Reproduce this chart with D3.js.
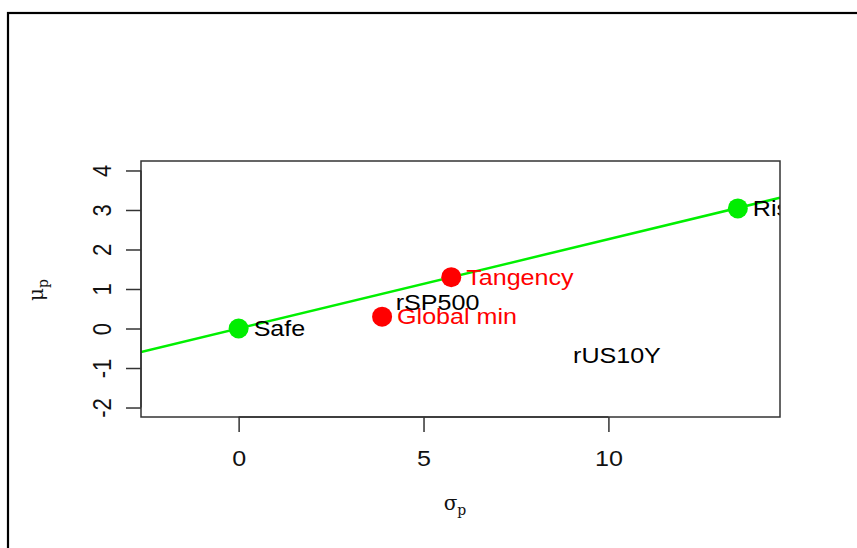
<!DOCTYPE html>
<html>
<head>
<meta charset="utf-8">
<script src="https://cdn.jsdelivr.net/npm/d3@7"></script>
<style>
  html, body { margin: 0; padding: 0; background: #fff; }
  svg { display: block; }
</style>
</head>
<body>
<svg id="chart" width="857" height="548"></svg>
<script>
// Portfolio points in (sigma_p, mu_p) space
const portfolioNames = ["Safe", "Global min", "Tangency", "Risky"];
const portfolioSigma = [0, 3.88, 5.75, 13.5];
const portfolioMu = [0, 0.30, 1.30, 3.04];
const portfolioColors = ["#00ee00", "#ff0000", "#ff0000", "#00ee00"];
const portfolioLabelColors = ["#000000", "#ff0000", "#ff0000", "#000000"];

// Individual assets, drawn as plain text labels
const assetNames = ["rSP500", "rUS10Y"];
const assetSigma = [5.38, 10.23];
const assetMu = [0.66, -0.67];

// Axis ticks
const xTicks = [0, 5, 10];
const yTicks = [-2, -1, 0, 1, 2, 3, 4];
const xDomain = [-2.64, 14.64];
const yDomain = [-2.24, 4.24];

const svg = d3.select("#chart");
const plot = { left: 141, right: 780, top: 161, bottom: 417 };
const fontFam = "'Liberation Sans', Arial, Helvetica, sans-serif";
const labelSize = 22;
const wide = 1.14; // horizontal glyph stretch of the text
const plainNum = d => String(d); // ASCII hyphen for negatives

// Outer frame
svg.append("rect")
  .attr("x", 8).attr("y", 13)
  .attr("width", 900).attr("height", 600)
  .attr("fill", "none").attr("stroke", "#000").attr("stroke-width", 2.2);

const x = d3.scaleLinear().domain(xDomain).range([plot.left, plot.right]);
const y = d3.scaleLinear().domain(yDomain).range([plot.bottom, plot.top]);

svg.append("clipPath").attr("id", "plotClip")
  .append("rect")
  .attr("x", plot.left).attr("y", plot.top)
  .attr("width", plot.right - plot.left).attr("height", plot.bottom - plot.top);

const inner = svg.append("g").attr("clip-path", "url(#plotClip)");

// Capital allocation line through Safe and Tangency
const slope = (portfolioMu[2] - portfolioMu[0]) / (portfolioSigma[2] - portfolioSigma[0]);
const lineData = xDomain.map(s => [s, portfolioMu[0] + slope * (s - portfolioSigma[0])]);
inner.append("path")
  .datum(lineData)
  .attr("d", d3.line().x(d => x(d[0])).y(d => y(d[1])))
  .attr("fill", "none")
  .attr("stroke", "#00f000")
  .attr("stroke-width", 2.5);

const points = portfolioNames.map((n, i) => ({
  name: n, s: portfolioSigma[i], m: portfolioMu[i],
  color: portfolioColors[i], labelColor: portfolioLabelColors[i]
}));

inner.selectAll("circle.pt").data(points).join("circle")
  .attr("class", "pt")
  .attr("cx", d => x(d.s)).attr("cy", d => y(d.m))
  .attr("r", 10)
  .attr("fill", d => d.color);

inner.selectAll("text.pl").data(points).join("text")
  .attr("class", "pl")
  .attr("transform", d => `translate(${x(d.s) + 15},${y(d.m)}) scale(${wide},1)`)
  .attr("dy", "0.35em")
  .attr("font-family", fontFam).attr("font-size", labelSize)
  .attr("fill", d => d.labelColor)
  .text(d => d.name);

const assets = assetNames.map((n, i) => ({ name: n, s: assetSigma[i], m: assetMu[i] }));
inner.selectAll("text.asset").data(assets).join("text")
  .attr("class", "asset")
  .attr("transform", d => `translate(${x(d.s)},${y(d.m)}) scale(${wide},1)`)
  .attr("dy", "0.35em")
  .attr("text-anchor", "middle")
  .attr("font-family", fontFam).attr("font-size", labelSize)
  .attr("fill", "#000")
  .text(d => d.name);

// Plot box
svg.append("rect")
  .attr("x", plot.left).attr("y", plot.top)
  .attr("width", plot.right - plot.left).attr("height", plot.bottom - plot.top)
  .attr("fill", "none").attr("stroke", "#333").attr("stroke-width", 1.5);

// X axis
const xAxis = svg.append("g").attr("transform", `translate(0,${plot.bottom})`)
  .call(d3.axisBottom(x).tickValues(xTicks).tickSize(15).tickPadding(18).tickFormat(plainNum));
xAxis.select(".domain")
  .attr("d", `M${x(xTicks[0])},0H${x(xTicks[xTicks.length - 1])}`)
  .attr("stroke", "#333").attr("stroke-width", 1.5);
xAxis.selectAll(".tick line").attr("stroke", "#333").attr("stroke-width", 1.5);
xAxis.selectAll(".tick text")
  .attr("font-family", fontFam).attr("font-size", labelSize).attr("fill", "#111")
  .attr("transform", `scale(${wide},1)`);

// Y axis with rotated labels
const yAxis = svg.append("g").attr("transform", `translate(${plot.left},0)`)
  .call(d3.axisLeft(y).tickValues(yTicks).tickSize(15).tickFormat(plainNum));
yAxis.select(".domain")
  .attr("d", `M0,${y(yTicks[0])}V${y(yTicks[yTicks.length - 1])}`)
  .attr("stroke", "#333").attr("stroke-width", 1.5);
yAxis.selectAll(".tick line").attr("stroke", "#333").attr("stroke-width", 1.5);
yAxis.selectAll(".tick text")
  .attr("font-family", fontFam).attr("font-size", labelSize).attr("fill", "#111")
  .attr("x", null).attr("dy", null)
  .attr("text-anchor", "middle")
  .attr("transform", `translate(-38,0) rotate(-90) scale(1,${wide})`)
  .attr("y", 7);

// Axis titles
const xt = svg.append("text")
  .attr("x", 455).attr("y", 510)
  .attr("text-anchor", "middle")
  .attr("font-family", "'DejaVu Serif', 'Liberation Serif', serif")
  .attr("font-size", 20).attr("fill", "#111");
xt.append("tspan").text("σ");
xt.append("tspan").attr("font-size", 14).attr("dy", 5).text("p");

const yt = svg.append("text")
  .attr("transform", "translate(43,290) rotate(-90)")
  .attr("text-anchor", "middle")
  .attr("font-family", "'DejaVu Serif', 'Liberation Serif', serif")
  .attr("font-size", 20).attr("fill", "#111");
yt.append("tspan").text("μ");
yt.append("tspan").attr("font-size", 14).attr("dy", 5).text("p");
</script>
</body>
</html>
